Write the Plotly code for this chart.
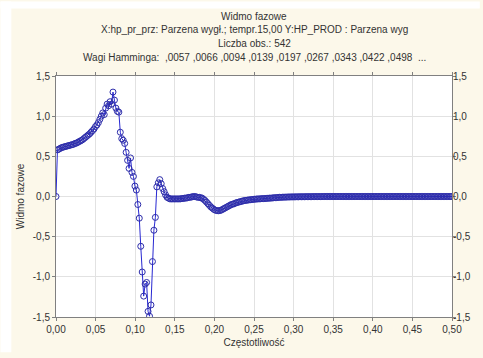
import plotly.graph_objects as go

n_obs = 542

phase = [
    0.0, 0.58, 0.59, 0.60, 0.61, 0.615, 0.62, 0.625, 0.63, 0.635,
    0.64, 0.645, 0.65, 0.66, 0.665, 0.675, 0.685, 0.695, 0.705, 0.72,
    0.735, 0.75, 0.765, 0.78, 0.80, 0.82, 0.84, 0.87, 0.89, 0.92,
    0.96, 1.00, 1.04, 1.02, 1.10, 1.15, 1.13, 1.18, 1.15, 1.30,
    1.20, 1.10, 1.06, 1.05, 0.80, 0.72, 0.70, 0.66, 0.55, 0.45,
    0.35, 0.48, 0.30, 0.25, 0.13, 0.08, -0.10, -0.27, -0.62, -0.94,
    -1.24, -1.09, -1.07, -1.43, -1.49, -1.35, -0.81, -0.42, -0.26, 0.12,
    0.17, 0.21, 0.16, 0.10, 0.06, 0.02, -0.01, -0.02, -0.03, -0.03,
    -0.03, -0.03, -0.03, -0.03, -0.03, -0.03, -0.025, -0.025, -0.02, -0.02,
    -0.015, -0.01, -0.01, -0.005, 0.0, 0.0, -0.005, -0.01, -0.01, -0.015,
    -0.02, -0.035, -0.05, -0.07, -0.09, -0.11, -0.13, -0.145, -0.16, -0.17,
    -0.175, -0.178, -0.175, -0.17, -0.16, -0.15, -0.14, -0.13, -0.12, -0.11,
    -0.10, -0.095, -0.09, -0.08, -0.075, -0.07, -0.065, -0.06, -0.055, -0.05,
    -0.048, -0.045, -0.043, -0.04, -0.038, -0.036, -0.034, -0.032, -0.03, -0.03,
    -0.028, -0.027, -0.026, -0.025, -0.024, -0.022, -0.02, -0.02, -0.018, -0.016,
    -0.015, -0.014, -0.012, -0.01, -0.01, -0.009, -0.008, -0.008, -0.007, -0.006,
    -0.006, -0.005, -0.005, -0.005, -0.004, -0.004, -0.004, -0.003, -0.003, -0.003,
    -0.003, -0.002, -0.002, -0.002, -0.002, -0.002, -0.001, -0.001, -0.001, -0.001,
    -0.001, -0.001, -0.001, 0.0, 0.0, 0.0, 0.0, 0.0, 0.0, 0.0,
    0.0, 0.0, 0.0, 0.0, 0.0, 0.0, 0.0, 0.0, 0.0, 0.0,
    0.0, 0.0, 0.0, 0.0, 0.0, 0.0, 0.0, 0.0, 0.0, 0.0,
    0.0, 0.0, 0.0, 0.0, 0.0, 0.0, 0.0, 0.0, 0.0, 0.0,
    0.0, 0.0, 0.0, 0.0, 0.0, 0.0, 0.0, 0.0, 0.0, 0.0,
    0.0, 0.0, 0.0, 0.0, 0.0, 0.0, 0.0, 0.0, 0.0, 0.0,
    0.0, 0.0, 0.0, 0.0, 0.0, 0.0, 0.0, 0.0, 0.0, 0.0,
    0.0, 0.0, 0.0, 0.0, 0.0, 0.0, 0.0, 0.0, 0.0, 0.0,
    0.0, 0.0, 0.0, 0.0, 0.0, 0.0, 0.0, 0.0, 0.0, 0.0,
    0.0, 0.0,
]

freq = [k / n_obs for k in range(len(phase))]

x_tick_vals = [0.0, 0.05, 0.10, 0.15, 0.20, 0.25, 0.30, 0.35, 0.40, 0.45, 0.50]
x_tick_text = ["0,00", "0,05", "0,10", "0,15", "0,20", "0,25", "0,30", "0,35", "0,40", "0,45", "0,50"]
y_tick_vals = [-1.5, -1.0, -0.5, 0.0, 0.5, 1.0, 1.5]
y_tick_text = ["-1,5", "-1,0", "-0,5", "0,0", "0,5", "1,0", "1,5"]

title_lines = [
    "Widmo fazowe",
    "X:hp_pr_prz: Parzena wygł.; tempr.15,00 Y:HP_PROD : Parzena wyg",
    "Liczba obs.: 542",
    "Wagi Hamminga:\u00a0\u00a0,0057\u00a0,0066\u00a0,0094\u00a0,0139\u00a0,0197\u00a0,0267\u00a0,0343\u00a0,0422\u00a0,0498\u00a0\u00a0...",
]
x_title = "Częstotliwość"
y_title = "Widmo fazowe"

FONT = "Liberation Sans, Arial, sans-serif"
TXT = "#333333"
LINE_COL = "rgb(40,40,210)"
MARK_COL = "rgb(45,45,170)"
CREAM = "#fcf8ea"

W, H = 483, 358
ML, MR, MT, MB = 56, 28, 76, 36
PW, PH = W - ML - MR, H - MT - MB

fig = go.Figure()
fig.add_trace(go.Scatter(
    x=freq, y=phase, mode="lines+markers",
    line=dict(color=LINE_COL, width=1),
    marker=dict(symbol="circle-open", size=6, color=MARK_COL, line=dict(width=1)),
    showlegend=False, hoverinfo="skip",
))
# invisible trace to activate right-hand axis labels
fig.add_trace(go.Scatter(x=[freq[0]], y=[phase[0]], yaxis="y2", mode="markers",
                         marker=dict(opacity=0), showlegend=False, hoverinfo="skip"))

axis_common = dict(
    showline=True, linecolor="#808080", linewidth=1,
    gridcolor="#e2e2e2", gridwidth=1, zeroline=False,
    ticks="outside", ticklen=3, tickcolor="#808080",
    tickfont=dict(family=FONT, size=10, color=TXT),
)

fig.update_layout(
    width=W, height=H,
    margin=dict(l=ML, r=MR, t=MT, b=MB),
    paper_bgcolor=CREAM, plot_bgcolor="white",
    font=dict(family=FONT, size=10, color=TXT),
    xaxis=dict(range=[0, 0.5], tickvals=x_tick_vals, ticktext=x_tick_text,
               mirror="ticks", title=dict(text=x_title, standoff=4,
               font=dict(family=FONT, size=10, color=TXT)), **axis_common),
    yaxis=dict(range=[-1.5, 1.5], tickvals=y_tick_vals, ticktext=y_tick_text,
               mirror="ticks", title=dict(text=y_title, standoff=6,
               font=dict(family=FONT, size=10, color=TXT)), **axis_common),
    yaxis2=dict(range=[-1.5, 1.5], tickvals=y_tick_vals, ticktext=y_tick_text,
                overlaying="y", side="right", showgrid=False, showline=False,
                zeroline=False, ticks="", tickfont=dict(family=FONT, size=10, color=TXT)),
    shapes=[
        # white strip on the left edge
        dict(type="rect", xref="paper", yref="paper",
             x0=-ML / PW, x1=(11 - ML) / PW, y0=-MB / PH, y1=(PH + MT) / PH,
             fillcolor="white", line=dict(width=0), layer="below"),
        # white strip on the top edge
        dict(type="rect", xref="paper", yref="paper",
             x0=-ML / PW, x1=(PW + MR) / PW, y0=(PH + MT - 7) / PH, y1=(PH + MT) / PH,
             fillcolor="white", line=dict(width=0), layer="below"),
    ],
)

for i, t in enumerate(title_lines):
    fig.add_annotation(text=t, xref="paper", yref="paper",
                       x=0.5, y=(PH + MT - 15 - 14 * i) / PH,
                       xanchor="center", yanchor="middle", showarrow=False,
                       font=dict(family=FONT, size=10, color=TXT))

fig.write_html("out.html")
